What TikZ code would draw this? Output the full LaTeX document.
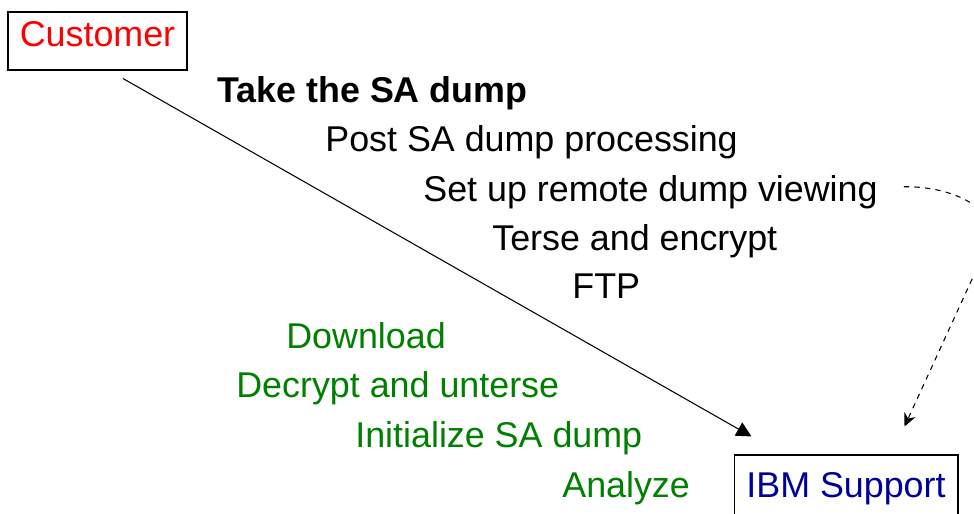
\documentclass[tikz,border=0pt]{standalone}
\usepackage{fontspec}
\setmainfont{Liberation Sans}
\usetikzlibrary{arrows.meta}

\definecolor{stepgreen}{RGB}{0,128,0}
\definecolor{ibmblue}{RGB}{0,0,153}

\tikzset{
  box/.style={draw, line width=0.6pt, inner sep=0pt, text height=0.5cm},
  stepline/.style={anchor=base west, inner sep=0pt},
}

\begin{document}
\begin{tikzpicture}[x=0.02cm, y=-0.02cm, font=\fontsize{20.4}{24}\selectfont]
\useasboundingbox (0,0) rectangle (974,514);

% Caixas
\node[box, text=red, minimum width=3.58cm, minimum height=1.16cm, text depth=0.3cm] (customer) at (97.5,41) {Customer};
\node[box, text=ibmblue, minimum width=4.48cm, minimum height=1.2cm, text depth=0.02cm] (ibm) at (846,485) {IBM Support};

% Passos do cliente
\node[stepline] (take) at (217,102) {\textbf{Take the SA dump}};
\node[stepline] (post) at (325,151.5) {Post SA dump processing};
\node[stepline] (setup) at (423,201) {Set up remote dump viewing};
\node[stepline] (terse) at (492,250) {Terse and encrypt};
\node[stepline] (ftp) at (572,298) {FTP};

% Passos do suporte
\node[stepline, text=stepgreen] (download) at (286,348) {Download};
\node[stepline, text=stepgreen] (decrypt) at (236,397) {Decrypt and unterse};
\node[stepline, text=stepgreen] (init) at (355,447) {Initialize SA dump};
\node[stepline, text=stepgreen] (analyze) at (562,497) {Analyze};

% Setas
\coordinate (s1) at ([shift={(25.5,8)}]customer.south);
\coordinate (s2) at ([shift={(18,-18)}]ibm.north west);
\draw[line width=0.6pt, -{Triangle[length=0.3cm, width=0.3cm]}] (s1) -- (s2);

\coordinate (d1) at ([shift={(26,-5)}]setup.east);
\coordinate (d2) at (990,240);
\coordinate (d3) at ([shift={(171,-28)}]ibm.north west);
\draw[line width=0.6pt, dashed, -{Stealth[length=0.26cm, width=0.24cm]}]
  (d1) .. controls (960,186) and (1001,215) .. (d2) -- (d3);

\end{tikzpicture}
\end{document}
